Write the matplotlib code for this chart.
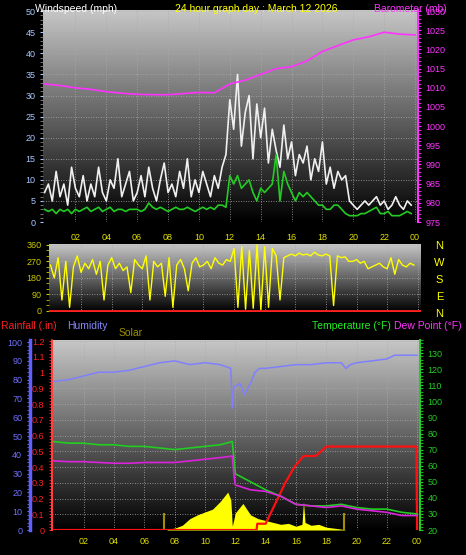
"""24 hour weather station graph: wind/barometer, wind direction, rain/humidity/temperature."""
import matplotlib
matplotlib.use("Agg")
import matplotlib.pyplot as plt
import numpy as np
from matplotlib.ticker import MultipleLocator

plt.rcParams["font.family"] = ["Liberation Sans", "DejaVu Sans"]
plt.rcParams["font.size"] = 6.5

# ---- data ----
hours_q = np.arange(96) * 0.25  # quarter-hour samples

wind_gust = [7, 9, 5, 12, 6, 9, 4, 13, 8, 6, 11, 5,
             9, 6, 13, 7, 5, 10, 8, 15, 6, 9, 12, 5,
             7, 11, 6, 13, 8, 5, 10, 14, 7, 9, 6, 12,
             8, 15, 6, 10, 7, 12, 9, 6, 11, 8, 13, 16,
             29, 22, 35, 18, 26, 30, 15, 28, 20, 27, 14, 22,
             17, 13, 23, 15, 19, 11, 16, 14, 18, 10, 15, 12,
             19, 9, 13, 8, 12, 10, 11, 5, 4, 3, 4, 5,
             4, 5, 6, 4, 5, 3, 4, 6, 4, 3, 5, 4]
wind_avg = [3, 2.5, 3, 2, 3, 2.5, 3, 2, 3, 2.5, 3, 3.5,
            2.5, 3, 3.5, 2.5, 3, 3.5, 2.5, 3, 3, 2.5, 3, 3,
            3, 2.5, 3, 4.5, 3.5, 3, 3.5, 3, 2.5, 3, 3.5, 3,
            3, 3.5, 3, 2.5, 3, 3.5, 3, 3.5, 3, 4, 4, 3.5,
            11, 9, 11, 8, 9, 10, 7, 5, 8, 7, 8, 9,
            16, 5, 12, 9, 7, 5, 7, 6, 7, 6, 5, 4,
            4, 3, 3, 4, 4, 3, 2, 1.5, 1.5, 1.5, 2, 2,
            2.5, 3, 3.5, 2, 2, 2.5, 1.5, 1.5, 1.5, 2, 2.5, 2]
baro_hours = np.arange(25)
baro = [1011.0, 1010.6, 1010.0, 1009.6, 1009.0, 1008.6, 1008.3, 1008.2, 1008.2,
        1008.5, 1008.8, 1008.7, 1011.0, 1012.0, 1013.5, 1015.0, 1015.5, 1017.0,
        1019.5, 1021.0, 1022.5, 1023.3, 1024.5, 1024.0, 1023.8]

wind_dir = [250, 180, 290, 60, 270, 20, 240, 300, 210, 260, 230, 280,
            200, 270, 60, 250, 290, 230, 260, 220, 240, 100, 280, 250,
            230, 300, 60, 270, 240, 260, 80, 290, 20, 250, 280, 230,
            110, 260, 290, 240, 250, 270, 230, 290, 260, 250, 280, 270,
            340, 20, 350, 10, 330, 15, 360, 5, 350, 20, 340, 300,
            60, 290, 300, 310, 300, 315, 305, 310, 300, 320, 305, 300,
            310, 300, 30, 300, 290, 295, 270, 270, 280, 260, 270, 230,
            240, 250, 260, 240, 230, 290, 200, 280, 250, 240, 260, 250]

hum_hours = [0, 1, 2, 3, 4, 5, 6, 7, 8, 9, 10, 11, 11.7, 11.8, 11.9, 12.3, 12.6, 13,
             13.3, 13.6, 14, 15, 16, 17, 18, 19, 19.3, 19.6, 20, 21, 22, 22.5, 23, 24]
humidity = [79, 80, 82, 84, 84, 85, 87, 89, 90, 88, 89, 88, 86, 65, 76, 78, 72, 78,
            84, 86, 86, 87, 88, 88, 89, 89, 86, 88, 89, 90, 91, 93, 93, 93]

temp_hours = [0, 1, 2, 3, 4, 5, 6, 7, 8, 9, 10, 11, 11.8, 11.9, 12, 13, 14, 15, 16,
              17, 18, 19, 20, 21, 22, 23, 24]
temperature = [75, 74, 74, 73, 73, 72, 72, 71, 70, 71, 72, 73, 75, 65, 55, 50, 45, 41,
               36, 35, 35, 36, 34, 33, 33, 31, 30]
dew_point = [63, 62.5, 62.5, 62, 61.5, 61.5, 62, 62, 62, 63, 64, 65, 66, 55, 48, 45,
             44, 41, 36, 35, 34, 35, 33, 32, 31, 29, 29]

rain_hours = [0, 13.4, 13.45, 14.0, 14.3, 14.8, 15.3, 15.9, 16.5, 17.3, 17.9, 18, 23.95, 24]
rainfall = [0, 0, 0.04, 0.04, 0.1, 0.2, 0.3, 0.4, 0.47, 0.47, 0.52, 0.53, 0.53, 0]

solar_hours = [7.5, 8, 8.5, 9, 9.5, 10, 10.5, 11, 11.5, 11.7, 11.8, 12, 12.5, 13, 13.5,
               14, 14.5, 15, 15.5, 16, 16.4, 16.5, 16.6, 17, 17.5, 18, 18.5, 19, 19.3]
solar = [5, 10, 25, 60, 80, 95, 110, 150, 200, 160, 20, 90, 140, 80, 60,
         50, 40, 30, 35, 20, 30, 150, 40, 25, 30, 15, 10, 5, 0]
sun_marks = [7.3, 19.2]

hour_ticks = np.arange(2, 25, 2)
hour_labels = [f"{h % 24:02d}" for h in hour_ticks]

YEL = "#ffff00"
HOUR_COL = "#e0e000"


def backdrop(ax):
    grad = np.linspace(0.78, 0.0, 200).reshape(-1, 1)
    ax.imshow(grad, cmap="gray", vmin=0, vmax=1, aspect="auto",
              extent=[0, 1, 0, 1], transform=ax.transAxes, zorder=0)
    ax.grid(True, color="#aaaaaa", linestyle=(0, (1, 2)), linewidth=0.6, zorder=1)
    ax.set_facecolor("black")
    for s in ax.spines.values():
        s.set_visible(False)


def bare_twin(ax):
    tw = ax.twinx()
    for s in tw.spines.values():
        s.set_visible(False)
    return tw


fig = plt.figure(figsize=(4.66, 5.55), dpi=100, facecolor="black")

# ---- top: wind speed & barometer ----
ax1 = fig.add_axes([0.0923, 0.6, 0.805, 0.382])
backdrop(ax1)
ax1.plot(hours_q, wind_gust, color="#f0f0f0", lw=1.2, zorder=3)
ax1.plot(hours_q, wind_avg, color="#22cc22", lw=1.2, zorder=4)
ax1.set_xlim(-0.1, 24.2)
ax1.set_ylim(0, 50.3)
ax1.yaxis.set_major_locator(MultipleLocator(5))
ax1.yaxis.set_minor_locator(MultipleLocator(1))
ax1.set_xticks(hour_ticks, hour_labels)
ax1.tick_params(axis="x", colors=HOUR_COL, length=0, pad=8)
ax1.tick_params(axis="y", which="both", colors="#a8c8ff", labelcolor="#a8c8ff", length=2)
ax1.tick_params(axis="y", which="minor", colors="#888888")
ax1b = bare_twin(ax1)
ax1b.plot(baro_hours, baro, color="#ff33ff", lw=1.2, zorder=5)
ax1b.set_ylim(975, 1030.3)
ax1b.yaxis.set_major_locator(MultipleLocator(5))
ax1b.yaxis.set_minor_locator(MultipleLocator(1))
ax1b.tick_params(axis="y", which="both", colors="#ff33ff", length=2)
ax1b.spines["right"].set_visible(True)
ax1b.spines["right"].set_color("#ff33ff")
ax1b.spines["right"].set_linewidth(1.5)
fig.text(0.163, 0.993, "Windspeed (mph)", color="white", ha="center", va="top", fontsize=7.5)
fig.text(0.55, 0.993, "24 hour graph day : March 12 2026", color=YEL, ha="center", va="top", fontsize=7.5)
fig.text(0.88, 0.993, "Barometer (mb)", color="#ff33ff", ha="center", va="top", fontsize=7.5)

# ---- middle: wind direction ----
ax2 = fig.add_axes([0.105, 0.438, 0.798, 0.1225])
backdrop(ax2)
ax2.plot(hours_q, wind_dir, color=YEL, lw=1.0, zorder=3)
ax2.axhline(0, color="#ff2020", lw=2, zorder=4)
ax2.set_xlim(-0.1, 24.2)
ax2.set_ylim(-5, 365)
ax2.set_yticks([0, 90, 180, 270, 360])
ax2.yaxis.set_minor_locator(MultipleLocator(30))
ax2.set_xticks(hour_ticks)
ax2.tick_params(axis="x", length=0, labelbottom=False)
ax2.tick_params(axis="y", which="both", colors="#c8c800", length=2)
for i, c in enumerate("NWSEN"):
    fig.text(0.943, 0.557 - i * 0.0305, c, color=YEL, ha="center", va="center", fontsize=8)

# ---- bottom: rain, humidity, solar, temperature, dew point ----
ax3 = fig.add_axes([0.1116, 0.045, 0.79, 0.342])
backdrop(ax3)
ax3.set_xlim(-0.1, 24.2)
ax3.set_ylim(0, 1.205)
ax3.yaxis.set_minor_locator(MultipleLocator(0.02))
ax3.set_yticks(np.arange(0, 1.21, 0.1), ["0", "0.1", "0.2", "0.3", "0.4", "0.5", "0.6", "0.7",
                                          "0.8", "0.9", "1", "1.1", "1.2"])
ax3.set_xticks(hour_ticks, hour_labels)
ax3.tick_params(axis="x", colors=HOUR_COL, length=0, pad=5)
ax3.tick_params(axis="y", which="both", colors="#ff2020", length=2)
ax3.spines["left"].set_visible(True)
ax3.spines["left"].set_color("#ff4040")
ax3.spines["left"].set_linestyle((0, (1, 1)))
ax3.spines["left"].set_linewidth(1.5)

axs = bare_twin(ax3)
axs.set_ylim(0, 1000)
axs.fill_between(solar_hours, solar, color=YEL, lw=0, zorder=2)
axs.vlines(sun_marks, 0, 90, color="#a09000", lw=1.5)
axs.set_yticks([])

axr = bare_twin(ax3)
axr.plot(rain_hours, rainfall, color="#ff1010", lw=1.6, zorder=6)
axr.set_ylim(0, 1.205)
axr.set_yticks([])

axh = bare_twin(ax3)
axh.plot(hum_hours, humidity, color="#8080ff", lw=1.1, zorder=5)
axh.set_ylim(0, 101)
axh.yaxis.set_major_locator(MultipleLocator(10))
axh.yaxis.set_minor_locator(MultipleLocator(2))
axh.yaxis.tick_left()
axh.spines["left"].set_position(("axes", -0.06))
axh.spines["left"].set_visible(True)
axh.spines["left"].set_color("#6060ff")
axh.spines["left"].set_linewidth(2.5)
axh.tick_params(axis="y", which="both", colors="#7070ff", length=2)

axt = bare_twin(ax3)
axt.plot(temp_hours, temperature, color="#22cc22", lw=1.2, zorder=5)
axt.plot(temp_hours, dew_point, color="#dd22dd", lw=1.2, zorder=5)
axt.set_ylim(20, 138)
axt.yaxis.set_major_locator(MultipleLocator(10))
axt.yaxis.set_minor_locator(MultipleLocator(2))
axt.spines["right"].set_visible(True)
axt.spines["right"].set_color("#22cc22")
axt.spines["right"].set_linewidth(1.5)
axt.tick_params(axis="y", which="both", colors="#22cc22", length=2)

fig.text(0.002, 0.412, "Rainfall (.in)", color="#ff2020", ha="left", va="center", fontsize=7.5)
fig.text(0.145, 0.412, "Humidity", color="#8888ff", ha="left", va="center", fontsize=7.5)
fig.text(0.255, 0.4, "Solar", color="#a09000", ha="left", va="center", fontsize=7.5)
fig.text(0.67, 0.412, "Temperature (\u00b0F)", color="#22ee22", ha="left", va="center", fontsize=7.5)
fig.text(0.845, 0.412, "Dew Point (\u00b0F)", color="#ff33ff", ha="left", va="center", fontsize=7.5)

fig.savefig("out.png", dpi=100, facecolor="black")
